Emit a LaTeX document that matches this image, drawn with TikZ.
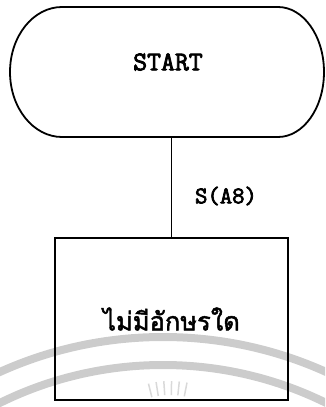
\documentclass[tikz,border=0pt]{standalone}
\usepackage{fontspec}
\newfontfamily\thaifont[Script=Thai,FakeBold=1.8]{Loma}
\newfontfamily\monofont{Latin Modern Mono}[FakeBold=3]
\usetikzlibrary{calc}
\begin{document}
\begin{tikzpicture}[x=1pt,y=-1pt,
  outline/.style={draw=black, line width=1.8pt},
  wm/.style={draw=black!20, line width=8pt},
  ray/.style={draw=black!15, line width=1.5pt},
  monotext/.style={font=\monofont\fontsize{#1}{#1}\selectfont, inner sep=0pt}]
\useasboundingbox (0,0) rectangle (325,407);
% watermark
\begin{scope}
  \clip (0,0) rectangle (325,407);
  \draw[wm] (163,734) circle[radius=397];
  \draw[wm] (163,734) circle[radius=369];
  \foreach \a in {-104,-99,-94,-89,-84,-79}
    \draw[ray] (170,470) ++(\a:75) -- ++(\a:14);
\end{scope}
% terminator
\node[minimum width=314pt, minimum height=130pt, inner sep=0pt, draw=none] (term) at (167,72) {};
\draw[outline] (62,7) -- (278,7)
  arc[start angle=-90, end angle=90, x radius=46, y radius=65]
  -- (62,137)
  arc[start angle=90, end angle=270, x radius=52, y radius=65] -- cycle;
\node[monotext=27] (starttxt) at (168,62) {START};
% process box
\node[outline, minimum width=233pt, minimum height=162pt, inner sep=0pt,
  font=\thaifont\fontsize{25.5}{30}\selectfont] (box) at (171.5,319) {ไม่มีอักษรใด};
% connector
\draw[outline] (box.north) -- (box.north |- term.south);
\node[monotext=24] (lab) at (226,196) {S(A8)};
\end{tikzpicture}
\end{document}
